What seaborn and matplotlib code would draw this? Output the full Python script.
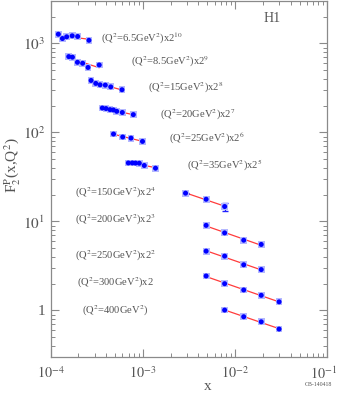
import numpy as np
import pandas as pd
import matplotlib
matplotlib.use("Agg")
import matplotlib.pyplot as plt
import seaborn as sns

# ---------------- data ----------------
q2_labels = ["6.5", "8.5", "15", "20", "25", "35", "150", "200", "250", "300", "400"]
powers = [10, 9, 8, 7, 6, 5, 4, 3, 2, 1, 0]

x_65 = [1.21e-4, 1.34e-4, 1.49e-4, 1.71e-4, 1.96e-4, 2.60e-4]
f2_65 = [1.24, 1.11, 1.16, 1.19, 1.17, 1.06]
x_85 = [1.57e-4, 1.72e-4, 1.95e-4, 2.22e-4, 2.54e-4, 3.36e-4]
f2_85 = [1.39, 1.37, 1.20, 1.17, 1.05, 1.12]
x_15 = [2.74e-4, 3.08e-4, 3.43e-4, 3.91e-4, 4.48e-4, 5.93e-4]
f2_15 = [1.50, 1.39, 1.34, 1.33, 1.27, 1.18]
x_20 = [3.63e-4, 3.98e-4, 4.40e-4, 4.78e-4, 5.20e-4, 5.98e-4, 7.87e-4]
f2_20 = [1.47, 1.45, 1.41, 1.40, 1.35, 1.31, 1.24]
x_25 = [4.80e-4, 6.04e-4, 7.43e-4, 9.90e-4]
f2_25 = [1.50, 1.39, 1.35, 1.24]
x_35 = [6.95e-4, 7.68e-4, 8.31e-4, 9.14e-4, 1.035e-3, 1.37e-3]
f2_35 = [1.42, 1.42, 1.415, 1.41, 1.33, 1.24]
x_150 = [2.90e-3, 4.85e-3, 7.70e-3]
f2_150 = [1.30, 1.11, 0.92]
err_150 = [0.02, 0.02, 0.10]
x_200 = [4.85e-3, 7.70e-3, 1.24e-2, 1.92e-2]
f2_200 = [1.13, 0.93, 0.77, 0.69]
x_250 = [4.85e-3, 7.70e-3, 1.24e-2, 1.92e-2]
f2_250 = [1.16, 1.02, 0.815, 0.72]
x_300 = [4.85e-3, 7.70e-3, 1.24e-2, 1.92e-2, 3.00e-2]
f2_300 = [1.22, 1.00, 0.85, 0.74, 0.625]
x_400 = [7.70e-3, 1.24e-2, 1.92e-2, 3.00e-2]
f2_400 = [1.01, 0.85, 0.746, 0.618]

xs = [x_65, x_85, x_15, x_20, x_25, x_35, x_150, x_200, x_250, x_300, x_400]
fs = [f2_65, f2_85, f2_15, f2_20, f2_25, f2_35, f2_150, f2_200, f2_250, f2_300, f2_400]

rows = []
for lab, p, xv, fv in zip(q2_labels, powers, xs, fs):
    for a, b in zip(xv, fv):
        rows.append({"Q2": lab, "x": a, "y": b * 2 ** p})
df = pd.DataFrame(rows)

# ---------------- figure ----------------
sns.set_style("ticks")
plt.rcParams["font.family"] = ["Liberation Serif", "DejaVu Serif"]
plt.rcParams["mathtext.fontset"] = "stix"

W, H = 338, 399
fig = plt.figure(figsize=(W / 100, H / 100), dpi=100)
ax = fig.add_axes([50.7 / W, 1 - 357 / H, (327.3 - 50.7) / W, 356 / H])
ax.set_xscale("log")
ax.set_yscale("log")
ax.set_xlim(1e-4, 1e-1)
ax.set_ylim(0.3, 3000)

grey = "#8a8a8a"
txt = "#555555"

# fit lines (log-log straight line fit to each set)
for lab in q2_labels:
    d = df[df.Q2 == lab]
    lx, ly = np.log10(d.x.values), np.log10(d.y.values)
    c = np.polyfit(lx, ly, 1)
    ends = np.array([lx.min(), lx.max()])
    line = pd.DataFrame({"x": 10 ** ends, "y": 10 ** np.polyval(c, ends)})
    sns.lineplot(data=line, x="x", y="y", ax=ax, color="#ff3c3c", lw=0.9,
                 zorder=2, legend=False)

# error bar on the one visible point
p150 = 2 ** 4
ax.errorbar(x_150, [v * p150 for v in f2_150], yerr=[e * p150 for e in err_150],
            fmt="none", ecolor="#2020ff", elinewidth=0.9, capsize=2.2, zorder=3)

# light halo boxes then blue markers
sns.scatterplot(data=df, x="x", y="y", ax=ax, marker="s", s=24, color="#b4b8ff",
                edgecolor="none", zorder=3, legend=False)
sns.scatterplot(data=df, x="x", y="y", ax=ax, marker="o", s=13, color="#0000ff",
                edgecolor="none", zorder=4, legend=False)

ax.set_xlabel("")
ax.set_ylabel("")
for s in ax.spines.values():
    s.set_color(grey)
    s.set_linewidth(0.9)
ax.tick_params(which="both", direction="in", top=True, right=True, colors=grey,
               labelcolor=txt, labelsize=11)
ax.tick_params(axis="x", labelsize=10.2)
ax.tick_params(which="major", length=6, width=0.8)
ax.tick_params(which="minor", length=3, width=0.7)
ax.xaxis.set_major_locator(matplotlib.ticker.LogLocator(base=10, numticks=10))
ax.xaxis.set_minor_locator(matplotlib.ticker.LogLocator(base=10, subs=np.arange(2, 10), numticks=20))
ax.yaxis.set_minor_locator(matplotlib.ticker.LogLocator(base=10, subs=np.arange(2, 10), numticks=20))
ax.xaxis.set_minor_formatter(matplotlib.ticker.NullFormatter())
ax.yaxis.set_minor_formatter(matplotlib.ticker.NullFormatter())

def yfmt(v, pos):
    e = int(round(np.log10(v)))
    return "1" if e == 0 else r"$10^{%d}$" % e
ax.yaxis.set_major_formatter(matplotlib.ticker.FuncFormatter(yfmt))
ax.xaxis.set_major_formatter(matplotlib.ticker.FuncFormatter(
    lambda v, pos: r"$10^{%d}$" % int(round(np.log10(v)))))
ax.tick_params(axis="x", pad=6)
ax.tick_params(axis="y", pad=4)
# keep the last x tick label inside the canvas
for t in ax.get_xticklabels():
    t.set_ha("center")
fig.canvas.draw()
xl = ax.get_xticklabels()
for t in xl:
    if t.get_text().endswith("{-1}$"):
        t.set_ha("right")
        t.set_x(t.get_position()[0])
        t.set_transform(t.get_transform() + matplotlib.transforms.ScaledTranslation(10 / 100, 0, fig.dpi_scale_trans))

# labels
def ftext(px, py, s, **kw):
    fig.text(px / W, 1 - py / H, s, **kw)

lab_pos = [(101, 38), (131, 62), (148, 88), (160, 115), (169, 138), (187, 165),
           (75, 193), (75, 220), (75, 256), (77, 283), (82, 311)]
for (px, py), lab, p in zip(lab_pos, q2_labels, powers):
    if p == 0:
        s = r"(Q$^2$=%sGeV$^2$)" % lab
    elif p == 1:
        s = r"(Q$^2$=%sGeV$^2$)x2" % lab
    else:
        s = r"(Q$^2$=%sGeV$^2$)x2$^{%d}$" % (lab, p)
    ftext(px, py, s, fontsize=7.6, color=txt, ha="left", va="center")

ftext(272, 18, "H1", fontsize=10, color=txt, ha="center", va="center")
ftext(208, 386, "x", fontsize=11, color=txt, ha="center", va="center")
ftext(318, 384, "CB-140418", fontsize=4.2, color=txt, ha="center", va="center")
ftext(13, 165, r"F$_2^{\rm P}$(x,Q$^2$)", fontsize=11, color=txt, ha="center",
      va="center", rotation=90)

fig.savefig("out.png", dpi=100)
